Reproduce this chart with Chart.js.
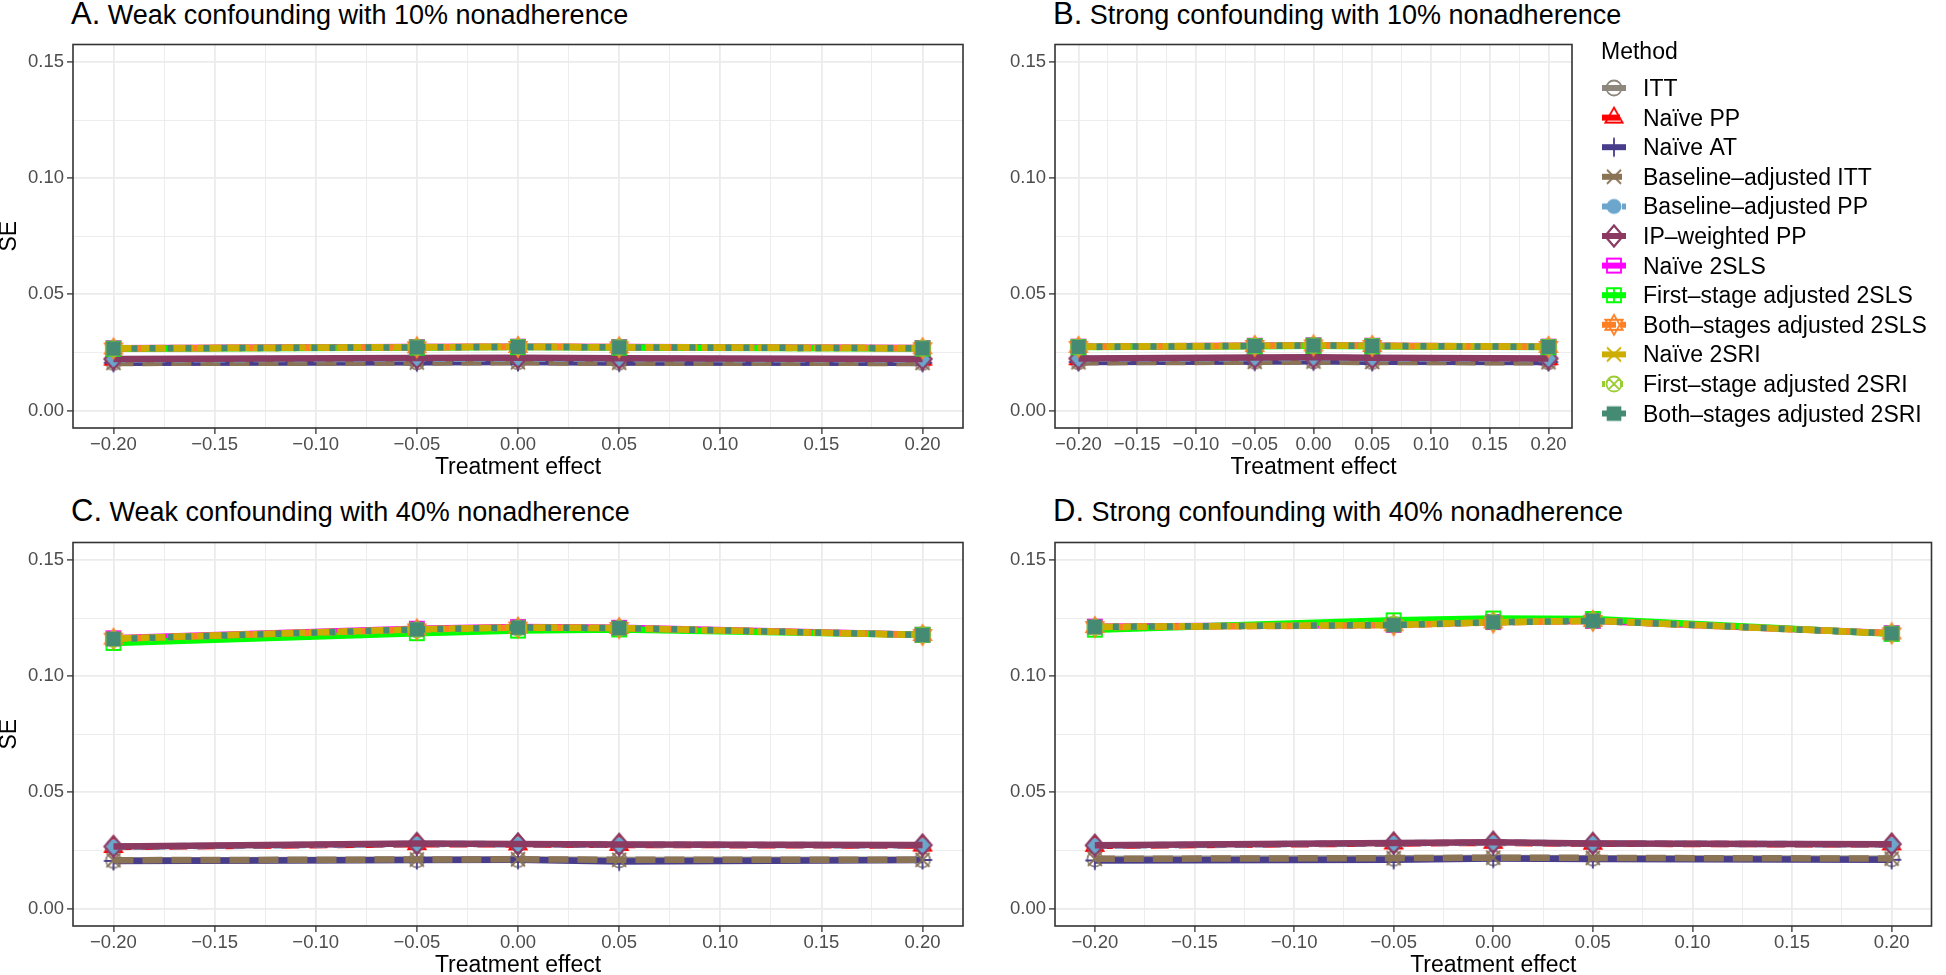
<!DOCTYPE html>
<html>
<head>
<meta charset="utf-8">
<script src="https://cdn.jsdelivr.net/npm/chart.js@4.4.1/dist/chart.umd.min.js"></script>
<style>
  body { margin: 0; background: #fff; width: 1946px; height: 975px; overflow: hidden; position: relative;
         font-family: "Liberation Sans", Arial, sans-serif; }
  .panel { position: absolute; }
  .ttl { position: absolute; font-size: 27px; line-height: 34px; color: #000; white-space: nowrap; }
  .ttl span { font-size: 31px; }
</style>
</head>
<body>
<div class="ttl" style="left:71px;top:-3px"><span>A.</span> Weak confounding with 10% nonadherence</div>
<div class="ttl" style="left:1053px;top:-3px"><span>B.</span> Strong confounding with 10% nonadherence</div>
<div class="ttl" style="left:71px;top:494px"><span>C.</span> Weak confounding with 40% nonadherence</div>
<div class="ttl" style="left:1053px;top:494px"><span>D.</span> Strong confounding with 40% nonadherence</div>

<div class="panel" style="left:0;top:30px;width:980px;height:450px"><canvas id="chartA"></canvas></div>
<div class="panel" style="left:980px;top:30px;width:966px;height:450px"><canvas id="chartB"></canvas></div>
<div class="panel" style="left:0;top:528px;width:980px;height:447px"><canvas id="chartC"></canvas></div>
<div class="panel" style="left:980px;top:528px;width:966px;height:447px"><canvas id="chartD"></canvas></div>

<script>
// treatment effects simulated
const xValues = [-0.20, -0.05, 0.00, 0.05, 0.20];

// axis ticks
const xMajorTicks = [-0.20, -0.15, -0.10, -0.05, 0.00, 0.05, 0.10, 0.15, 0.20];
const xTickLabels = ['\u22120.20', '\u22120.15', '\u22120.10', '\u22120.05', '0.00', '0.05', '0.10', '0.15', '0.20'];
const xMinorTicks = [-0.175, -0.125, -0.075, -0.025, 0.025, 0.075, 0.125, 0.175];
const yMajorTicks = [0.00, 0.05, 0.10, 0.15];
const yTickLabels = ['0.00', '0.05', '0.10', '0.15'];
const yMinorTicks = [0.025, 0.075, 0.125];

const methods = ['ITT', 'Naïve PP', 'Naïve AT', 'Baseline–adjusted ITT', 'Baseline–adjusted PP',
  'IP–weighted PP', 'Naïve 2SLS', 'First–stage adjusted 2SLS', 'Both–stages adjusted 2SLS',
  'Naïve 2SRI', 'First–stage adjusted 2SRI', 'Both–stages adjusted 2SRI'];
const methodColors = ['#8E877D', '#FF0000', '#483D8B', '#8B7355', '#6CA6CD', '#8B3A62',
  '#FF00FF', '#00FF00', '#FF7F24', '#CDAD00', '#9ACD32', '#458B74'];
const methodShapes = ['circleOpen', 'triangleOpen', 'plus', 'cross', 'circleFilled', 'diamondOpen',
  'squareOpen', 'squarePlus', 'star', 'cross', 'circleCross', 'squareFilled'];
const methodDash = [[], [18, 10], [], [20, 9], [12, 8], [], [], [], [14, 5], [24, 4], [3, 15], [6, 12]];

// SE by method (rows in methods order), values at xValues
const seWeak10 = [
  [0.0207, 0.0209, 0.0210, 0.0208, 0.0207],
  [0.0219, 0.0222, 0.0223, 0.0221, 0.0219],
  [0.0206, 0.0208, 0.0209, 0.0207, 0.0206],
  [0.0205, 0.0207, 0.0208, 0.0206, 0.0205],
  [0.0220, 0.0223, 0.0224, 0.0222, 0.0220],
  [0.0222, 0.0226, 0.0227, 0.0225, 0.0222],
  [0.0268, 0.0273, 0.0275, 0.0273, 0.0269],
  [0.0266, 0.0271, 0.0273, 0.0271, 0.0267],
  [0.0267, 0.0272, 0.0274, 0.0272, 0.0268],
  [0.0268, 0.0273, 0.0275, 0.0273, 0.0269],
  [0.0266, 0.0272, 0.0274, 0.0272, 0.0268],
  [0.0267, 0.0272, 0.0274, 0.0272, 0.0268]
];
const seStrong10 = [
  [0.0210, 0.0212, 0.0213, 0.0211, 0.0210],
  [0.0221, 0.0225, 0.0226, 0.0224, 0.0221],
  [0.0209, 0.0211, 0.0212, 0.0210, 0.0209],
  [0.0208, 0.0210, 0.0211, 0.0209, 0.0208],
  [0.0222, 0.0226, 0.0227, 0.0225, 0.0222],
  [0.0224, 0.0228, 0.0229, 0.0227, 0.0224],
  [0.0275, 0.0279, 0.0281, 0.0279, 0.0275],
  [0.0273, 0.0277, 0.0279, 0.0277, 0.0273],
  [0.0274, 0.0278, 0.0280, 0.0278, 0.0274],
  [0.0275, 0.0279, 0.0281, 0.0279, 0.0275],
  [0.0273, 0.0278, 0.0280, 0.0278, 0.0274],
  [0.0274, 0.0278, 0.0280, 0.0278, 0.0274]
];
const seWeak40 = [
  [0.0207, 0.0210, 0.0211, 0.0209, 0.0210],
  [0.0265, 0.0277, 0.0276, 0.0274, 0.0271],
  [0.0205, 0.0209, 0.0210, 0.0203, 0.0209],
  [0.0208, 0.0211, 0.0212, 0.0210, 0.0210],
  [0.0266, 0.0278, 0.0277, 0.0275, 0.0272],
  [0.0267, 0.0280, 0.0278, 0.0276, 0.0273],
  [0.1163, 0.1204, 0.1211, 0.1208, 0.1178],
  [0.1143, 0.1185, 0.1196, 0.1201, 0.1178],
  [0.1161, 0.1201, 0.1209, 0.1207, 0.1177],
  [0.1162, 0.1202, 0.1210, 0.1207, 0.1177],
  [0.1158, 0.1199, 0.1207, 0.1206, 0.1178],
  [0.1160, 0.1201, 0.1209, 0.1207, 0.1177]
];
const seStrong40 = [
  [0.0213, 0.0216, 0.0218, 0.0217, 0.0214],
  [0.0270, 0.0280, 0.0283, 0.0279, 0.0276],
  [0.0207, 0.0210, 0.0215, 0.0213, 0.0210],
  [0.0214, 0.0217, 0.0219, 0.0218, 0.0215],
  [0.0271, 0.0281, 0.0284, 0.0280, 0.0276],
  [0.0272, 0.0282, 0.0285, 0.0280, 0.0277],
  [0.1213, 0.1221, 0.1233, 0.1238, 0.1185],
  [0.1200, 0.1240, 0.1248, 0.1246, 0.1182],
  [0.1211, 0.1219, 0.1231, 0.1238, 0.1184],
  [0.1212, 0.1220, 0.1232, 0.1238, 0.1184],
  [0.1210, 0.1224, 0.1234, 0.1239, 0.1184],
  [0.1212, 0.1220, 0.1232, 0.1238, 0.1184]
];

const FONT = '"Liberation Sans", Arial, sans-serif';

// ggplot-like point shapes as small canvases
function makeMarker(kind, color) {
  const c = document.createElement('canvas');
  c.width = 30; c.height = 30;
  const g = c.getContext('2d');
  const m = 15;
  g.strokeStyle = color; g.fillStyle = color; g.lineWidth = 1.8;
  const circle = r => { g.beginPath(); g.arc(m, m, r, 0, Math.PI * 2); };
  const square = h => { g.beginPath(); g.rect(m - h, m - h, 2 * h, 2 * h); };
  const tri = (h, up) => {
    const s = up ? 1 : -1;
    g.beginPath();
    g.moveTo(m, m - s * h);
    g.lineTo(m + h * 0.866, m + s * h * 0.5);
    g.lineTo(m - h * 0.866, m + s * h * 0.5);
    g.closePath();
  };
  switch (kind) {
    case 'circleOpen': circle(7.5); g.stroke(); break;
    case 'triangleOpen': tri(10, true); g.stroke(); break;
    case 'plus':
      g.beginPath(); g.moveTo(m - 9.5, m); g.lineTo(m + 9.5, m); g.moveTo(m, m - 9.5); g.lineTo(m, m + 9.5); g.stroke(); break;
    case 'cross':
      g.beginPath(); g.moveTo(m - 7, m - 7); g.lineTo(m + 7, m + 7); g.moveTo(m + 7, m - 7); g.lineTo(m - 7, m + 7); g.stroke(); break;
    case 'circleFilled': circle(7.5); g.fill(); break;
    case 'diamondOpen':
      g.beginPath(); g.moveTo(m, m - 10.5); g.lineTo(m + 9, m); g.lineTo(m, m + 10.5); g.lineTo(m - 9, m); g.closePath();
      g.lineWidth = 2.2; g.stroke(); break;
    case 'squareOpen': square(7); g.stroke(); break;
    case 'squarePlus':
      square(7); g.moveTo(m - 7, m); g.lineTo(m + 7, m); g.moveTo(m, m - 7); g.lineTo(m, m + 7); g.stroke(); break;
    case 'star': tri(10, true); g.stroke(); tri(10, false); g.stroke(); break;
    case 'circleCross':
      circle(7.5); g.moveTo(m - 5.3, m - 5.3); g.lineTo(m + 5.3, m + 5.3); g.moveTo(m + 5.3, m - 5.3); g.lineTo(m - 5.3, m + 5.3); g.stroke(); break;
    case 'squareFilled': square(7.3); g.fill(); break;
  }
  return c;
}
const markers = methodShapes.map((s, i) => makeMarker(s, methodColors[i]));

const near = (list, v) => list.findIndex(t => Math.abs(t - v) < 1e-9);

// full panel border
const panelBorder = {
  id: 'panelBorder',
  afterDraw(chart) {
    const a = chart.chartArea, ctx = chart.ctx;
    ctx.save();
    ctx.strokeStyle = '#333333';
    ctx.lineWidth = 1.6;
    ctx.strokeRect(a.left, a.top, a.right - a.left, a.bottom - a.top);
    ctx.restore();
  }
};

// legend to the right of panel B
const methodLegend = {
  id: 'methodLegend',
  afterDraw(chart) {
    const ctx = chart.ctx, a = chart.chartArea;
    const x0 = a.right + 30;
    ctx.save();
    ctx.fillStyle = '#000';
    ctx.textBaseline = 'alphabetic';
    ctx.textAlign = 'left';
    ctx.font = '23px ' + FONT;
    ctx.fillText('Method', x0 - 1, 29);
    chart.data.datasets.forEach((ds, i) => {
      const base = 66 + 29.6 * i;
      const cy = base - 8;
      ctx.save();
      ctx.strokeStyle = ds.borderColor;
      ctx.lineWidth = 6;
      ctx.setLineDash(ds.borderDash);
      ctx.beginPath();
      ctx.moveTo(x0, cy);
      ctx.lineTo(x0 + 24, cy);
      ctx.stroke();
      ctx.restore();
      const mk = ds.pointStyle;
      ctx.drawImage(mk, x0 + 12 - mk.width / 2, cy - mk.height / 2);
      ctx.fillText(ds.label, x0 + 41, base);
    });
    ctx.restore();
  }
};

function makeChart(id, se, opt) {
  const datasets = methods.map((name, i) => ({
    label: name,
    data: xValues.map((x, j) => ({ x: x, y: se[i][j] })),
    borderColor: methodColors[i],
    backgroundColor: methodColors[i],
    borderWidth: 6.5,
    borderDash: methodDash[i],
    pointStyle: markers[i],
    pointRadius: 8,
    tension: 0,
    fill: false,
    order: methods.length - i
  }));
  const gridOpts = (major) => ({
    color: '#EBEBEB',
    lineWidth: c => (c.tick && near(major, c.tick.value) >= 0) ? 1.8 : 0.9,
    tickColor: c => (c.tick && near(major, c.tick.value) >= 0) ? '#333333' : 'rgba(0,0,0,0)',
    tickLength: 6,
    tickWidth: 1.3
  });
  return new Chart(document.getElementById(id), {
    type: 'line',
    data: { datasets: datasets },
    options: {
      responsive: true,
      maintainAspectRatio: false,
      animation: false,
      devicePixelRatio: 1,
      layout: { padding: opt.padding },
      plugins: { legend: { display: false }, tooltip: { enabled: false } },
      scales: {
        x: {
          type: 'linear',
          min: -0.22,
          max: 0.22,
          afterBuildTicks: s => { s.ticks = xMajorTicks.concat(xMinorTicks).sort((p, q) => p - q).map(v => ({ value: v })); },
          afterFit: s => { s.height = opt.xAxisHeight; },
          ticks: {
            autoSkip: false, maxRotation: 0, minRotation: 0, padding: 0,
            color: '#4D4D4D', font: { family: FONT, size: 18.5 },
            callback: v => { const k = near(xMajorTicks, v); return k >= 0 ? xTickLabels[k] : ''; }
          },
          grid: gridOpts(xMajorTicks),
          border: { display: false },
          title: {
            display: true, text: 'Treatment effect', color: '#000',
            font: { family: FONT, size: 23, lineHeight: 1 },
            padding: { top: 0, bottom: opt.xTitlePad }
          }
        },
        y: {
          type: 'linear',
          min: -0.0075,
          max: 0.1575,
          afterBuildTicks: s => { s.ticks = yMajorTicks.concat(yMinorTicks).sort((p, q) => p - q).map(v => ({ value: v })); },
          afterFit: s => { s.width = opt.yAxisWidth; },
          ticks: {
            autoSkip: false, padding: 3,
            color: '#4D4D4D', font: { family: FONT, size: 18.5 },
            callback: v => { const k = near(yMajorTicks, v); return k >= 0 ? yTickLabels[k] : ''; }
          },
          grid: gridOpts(yMajorTicks),
          border: { display: false },
          title: {
            display: opt.showSE, text: 'SE', color: '#000',
            font: { family: FONT, size: 23, lineHeight: 1 },
            padding: { top: -1.5, bottom: 0 }
          }
        }
      }
    },
    plugins: [panelBorder].concat(opt.extra || [])
  });
}

makeChart('chartA', seWeak10, { padding: { top: 9, right: 17, left: 0, bottom: 0 }, xAxisHeight: 52, yAxisWidth: 73, xTitlePad: 0.5, showSE: true });
makeChart('chartB', seStrong10, { padding: { top: 9, right: 374, left: 0, bottom: 0 }, xAxisHeight: 52, yAxisWidth: 75, xTitlePad: 0.5, showSE: false, extra: [methodLegend] });
makeChart('chartC', seWeak40, { padding: { top: 9, right: 17, left: 0, bottom: 0 }, xAxisHeight: 49, yAxisWidth: 73, xTitlePad: -2, showSE: true });
makeChart('chartD', seStrong40, { padding: { top: 9, right: 2, left: 0, bottom: 0 }, xAxisHeight: 49, yAxisWidth: 75, xTitlePad: -2, showSE: false });
</script>
</body>
</html>
